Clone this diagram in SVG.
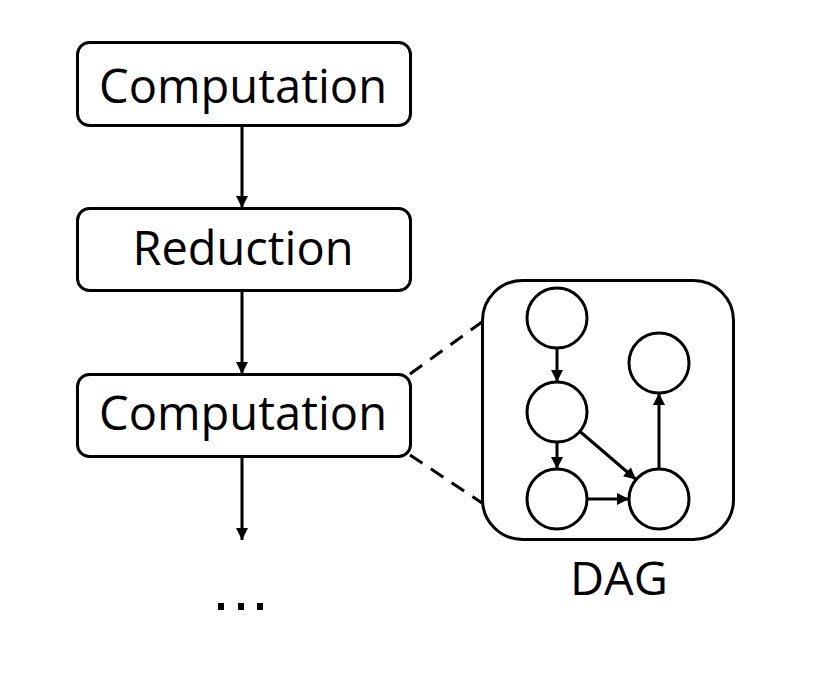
<svg xmlns="http://www.w3.org/2000/svg" width="830" height="674" viewBox="0 0 830 674">
<style>
.box{fill:#fff;stroke:#000;stroke-width:3}
.lbl{font-family:"Open Sans","Noto Sans","Liberation Sans",sans-serif;font-size:48px;fill:#000}
.ln{stroke:#000;stroke-width:3;fill:none}
.dash{stroke:#000;stroke-width:3;fill:none;stroke-dasharray:15 10}
.c{fill:#fff;stroke:#000;stroke-width:3}
</style>
<defs>
<marker id="ah" viewBox="0 0 12 12" refX="12" refY="6" markerWidth="12" markerHeight="12" markerUnits="userSpaceOnUse" orient="auto">
<path d="M0,0 L12,6 L0,12 Z" fill="#000"/>
</marker>
</defs>
<rect width="830" height="674" fill="#fff"/>
<g id="connectors">
<line class="ln" x1="242" y1="126" x2="242" y2="208" marker-end="url(#ah)"/>
<line class="ln" x1="242" y1="290" x2="242" y2="374" marker-end="url(#ah)"/>
<line class="ln" x1="242" y1="456" x2="242" y2="540" marker-end="url(#ah)"/>
<line class="dash" x1="410" y1="374" x2="482" y2="322"/>
<line class="dash" x1="410" y1="455" x2="482" y2="503"/>
</g>
<g id="n1">
<rect class="box" x="77.5" y="42.5" width="333" height="83" rx="12"/>
<text class="lbl" x="243" y="103" text-anchor="middle" textLength="288" lengthAdjust="spacingAndGlyphs">Computation</text>
</g>
<g id="n2">
<rect class="box" x="77.5" y="208.5" width="333" height="82" rx="12"/>
<text class="lbl" x="243" y="265" text-anchor="middle" textLength="221" lengthAdjust="spacingAndGlyphs">Reduction</text>
</g>
<g id="n3">
<rect class="box" x="77.5" y="374.5" width="333" height="82" rx="12"/>
<text class="lbl" x="243" y="430" text-anchor="middle" textLength="288" lengthAdjust="spacingAndGlyphs">Computation</text>
</g>
<g id="dots">
<rect x="218" y="603" width="6" height="7" fill="#000"/>
<rect x="238" y="603" width="6" height="7" fill="#000"/>
<rect x="257" y="603" width="6" height="7" fill="#000"/>
</g>
<g id="dag">
<rect class="box" x="482.5" y="280.5" width="251" height="259" rx="40"/>
<g id="dag-edges">
<line class="ln" x1="557" y1="348" x2="557" y2="382" marker-end="url(#ah)"/>
<line class="ln" x1="557" y1="442" x2="557" y2="469" marker-end="url(#ah)"/>
<line class="ln" x1="580" y1="431.5" x2="636" y2="479.5" marker-end="url(#ah)"/>
<line class="ln" x1="587" y1="499" x2="629" y2="499" marker-end="url(#ah)"/>
<line class="ln" x1="659" y1="469" x2="659" y2="393" marker-end="url(#ah)"/>
</g>
<circle id="d1" class="c" cx="557" cy="318" r="30"/>
<circle id="d2" class="c" cx="557" cy="412" r="30"/>
<circle id="d3" class="c" cx="557" cy="499" r="30"/>
<circle id="d4" class="c" cx="659" cy="363" r="30"/>
<circle id="d5" class="c" cx="659" cy="499" r="30"/>
</g>
<g id="dag-label">
<text class="lbl" x="619" y="595" text-anchor="middle" textLength="98" lengthAdjust="spacingAndGlyphs" style="font-size:46px">DAG</text>
</g>
</svg>
